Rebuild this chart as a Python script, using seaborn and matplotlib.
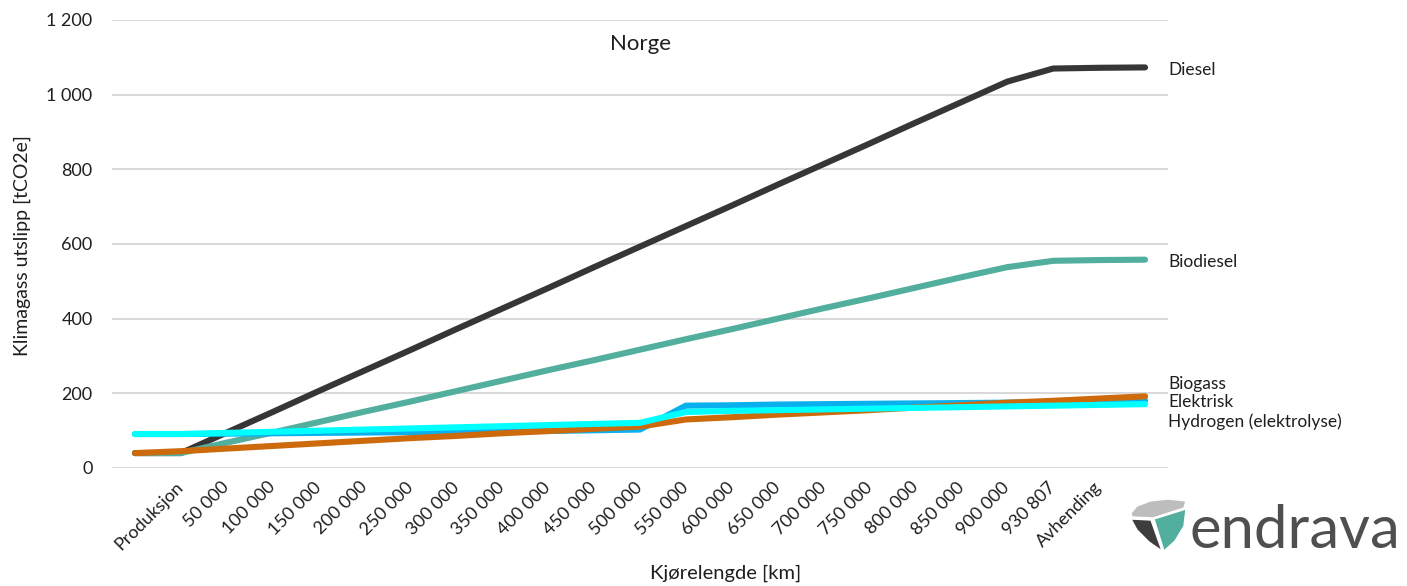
import numpy as np
import pandas as pd
import matplotlib
matplotlib.use("Agg")
import matplotlib.pyplot as plt
import seaborn as sns
from matplotlib.patches import Polygon

# ---------------- data ----------------
labels = ["", "Produksjon", "50 000", "100 000", "150 000", "200 000", "250 000",
          "300 000", "350 000", "400 000", "450 000", "500 000", "550 000",
          "600 000", "650 000", "700 000", "750 000", "800 000", "850 000",
          "900 000", "930 807", "Avhending", ""]

series_names = ["Diesel", "Biodiesel", "Biogass", "Elektrisk", "Hydrogen (elektrolyse)"]

diesel = [40, 40, 95, 150, 206, 261, 316, 372, 427, 482, 538, 593, 648, 703,
          759, 814, 869, 925, 980, 1035, 1070, 1072, 1073]
biodiesel = [40, 40, 68, 95, 123, 151, 178, 206, 234, 262, 289, 317, 345, 372,
             400, 428, 455, 483, 511, 538, 555, 557, 558]
biogass = [40, 45, 52, 59, 66, 73, 80, 86, 93, 99, 105, 111, 130, 136, 143,
           149, 155, 162, 168, 175, 180, 186, 192]
elektrisk = [91, 91, 92, 93, 94, 95, 96, 97, 98, 99, 101, 103, 167, 168, 170,
             171, 172, 173, 174, 175, 177, 179, 181]
hydrogen = [91, 91, 94, 97, 100, 103, 106, 109, 112, 115, 118, 121, 150, 153,
            155, 157, 159, 161, 163, 165, 167, 169, 171]

yticks = [0, 200, 400, 600, 800, 1000, 1200]
ytick_labels = ["0", "200", "400", "600", "800", "1 000", "1 200"]

colors = {"Diesel": "#363636", "Biodiesel": "#52AE9D", "Biogass": "#CC6A0C",
          "Elektrisk": "#0AB0EE", "Hydrogen (elektrolyse)": "#00FFFF"}
draw_order = ["Diesel", "Biodiesel", "Elektrisk", "Biogass", "Hydrogen (elektrolyse)"]

# end-label vertical placement (layout)
end_label_y = {"Diesel": 1066, "Biodiesel": 552, "Biogass": 225,
               "Elektrisk": 177, "Hydrogen (elektrolyse)": 123}

# ---------------- figure ----------------
sns.set_theme(style="white")
plt.rcParams["font.family"] = ["Lato", "DejaVu Sans"]

W, H = 1407, 586
fig = plt.figure(figsize=(W / 100, H / 100), dpi=100)
fig.patch.set_facecolor("white")
ax = fig.add_axes([112 / W, (H - 468) / H, 1056 / W, 448 / H])

pos = np.arange(len(labels))
rows = []
for name, vals in zip(series_names, [diesel, biodiesel, biogass, elektrisk, hydrogen]):
    for p, v in zip(pos, vals):
        rows.append({"pos": p, "value": v, "serie": name})
df = pd.DataFrame(rows)

sns.lineplot(data=df, x="pos", y="value", hue="serie", hue_order=draw_order,
             palette=colors, linewidth=4.4, legend=False, ax=ax,
             estimator=None, sort=False)
for line in ax.lines:
    line.set_solid_capstyle("round")
    line.set_solid_joinstyle("round")

ax.set_xlim(-0.5, len(labels) - 0.5)
ax.set_ylim(0, 1200)
ax.set_yticks(yticks, ytick_labels)
ax.yaxis.grid(True, color="#D9D9D9", linewidth=1.5)
ax.xaxis.grid(False)
ax.set_axisbelow(True)
for s in ax.spines.values():
    s.set_visible(False)

tick_pos = [p for p, l in zip(pos, labels) if l]
tick_lab = [l for l in labels if l]
ax.set_xticks(tick_pos, tick_lab)
ax.tick_params(axis="y", length=0, labelsize=13, labelcolor="#1F1F1F", pad=14)
ax.tick_params(axis="x", length=0, labelsize=13, labelcolor="#1F1F1F", pad=12)
for t in ax.get_xticklabels():
    t.set_rotation(45)
    t.set_ha("right")
    t.set_va("center")
    t.set_rotation_mode("anchor")
ax.set_xlabel("")
ax.set_ylabel("")

# end labels
for name in series_names:
    ax.text(len(labels) - 0.5, end_label_y[name], name, ha="left", va="center",
            fontsize=12.5, color="#1F1F1F")

# title
ax.text(0.5, (468 - 44) / 448, "Norge", transform=ax.transAxes, ha="center",
        va="center", fontsize=16, color="#1F1F1F")

# axis labels
fig.text(22 / W, (H - 246) / H, "Klimagass utslipp [tCO2e]", rotation=90,
         ha="center", va="center", fontsize=14, color="#1F1F1F")
fig.text(726 / W, (H - 573) / H, "Kjørelengde [km]", ha="center", va="center",
         fontsize=14.5, color="#1F1F1F")

# logo
def fp(pts):
    return [(x / W, (H - y) / H) for x, y in pts]

gray = fp([(1131, 513), (1137, 506), (1150, 501), (1168, 499), (1186, 501),
           (1184, 508), (1153, 518), (1132, 517)])
dark = fp([(1131, 519), (1151, 520), (1162, 551), (1149, 542), (1137, 530)])
teal = fp([(1154, 519), (1186, 509), (1184, 526), (1175, 541), (1164, 551)])
for pts, c in [(gray, "#BDBDBD"), (dark, "#3D3D3D"), (teal, "#52AE9D")]:
    fig.add_artist(Polygon(pts, closed=True, transform=fig.transFigure,
                           facecolor=c, edgecolor="white", linewidth=1))
fig.text(1190 / W, (H - 548) / H, "endrava", ha="left", va="baseline",
         fontsize=43, color="#4F4F4F", fontweight="normal")

fig.savefig("out.png", dpi=100, facecolor="white")
